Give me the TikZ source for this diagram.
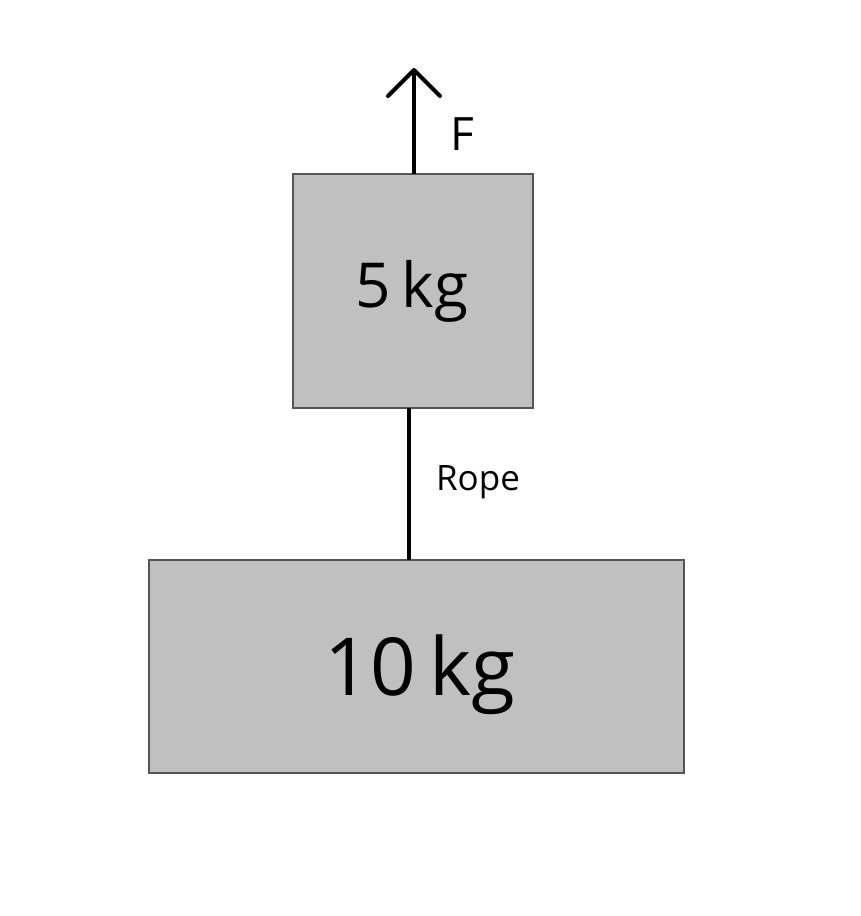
\documentclass[tikz,border=0pt]{standalone}
\usepackage{fontspec}
\setmainfont{Open Sans}
\usetikzlibrary{arrows.meta}
\definecolor{boxfill}{HTML}{C0C0C0}
\definecolor{boxline}{HTML}{555555}
\begin{document}
\begin{tikzpicture}[x=1pt,y=-1pt,
  mass/.style={draw=boxline,fill=boxfill,line width=1.4pt,inner sep=0pt,outer sep=0pt},
  strong/.style={line width=4pt,draw=black},
  lbl/.style={inner sep=0pt,anchor=base}]
\useasboundingbox (0,0) rectangle (860,916);
\node[mass,minimum width=240pt,minimum height=234pt] (top) at (413,291) {};
\node[mass,minimum width=535pt,minimum height=213pt] (bot) at (416.5,666.5) {};
\node[lbl,font=\fontsize{62}{70}\selectfont] (t5) at (412,307) {5\,kg};
\node[lbl,font=\fontsize{80}{90}\selectfont] (t10) at (420,695) {10\,kg};
\coordinate (tip) at (414,68);
\draw[strong,-{Straight Barb[length=26pt,width=52pt,line cap=round,line join=round]}] ([xshift=1pt]top.north) -- (tip);
\node[lbl,font=\fontsize{46}{52}\selectfont] (F) at (462,150) {F};
\draw[strong] ([xshift=-4pt]top.south) -- ([xshift=-4pt]top.south |- bot.north);
\node[lbl,font=\fontsize{35}{40}\selectfont] (rope) at (478,490) {Rope};
\end{tikzpicture}
\end{document}
